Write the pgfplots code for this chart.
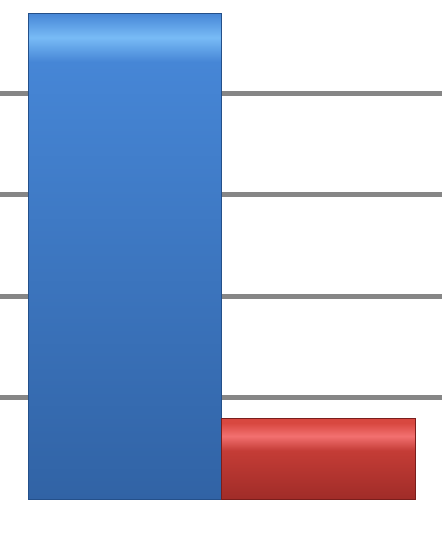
\documentclass[border=0pt]{standalone}
\usepackage{pgfplots}
\pgfplotsset{compat=1.18}
\definecolor{gridgray}{HTML}{868686}
\definecolor{bluetop}{HTML}{4686D6}
\definecolor{bluebot}{HTML}{3163A5}
\definecolor{bluelight}{HTML}{78BBF6}
\definecolor{blueedge}{HTML}{24508A}
\definecolor{redtop}{HTML}{D84840}
\definecolor{redmid}{HTML}{C43C36}
\definecolor{redlight}{HTML}{F27070}
\definecolor{redbot}{HTML}{A02C28}
\definecolor{rededge}{HTML}{7A1E1C}
\pgfdeclareverticalshading{blueshade}{100bp}{color(0bp)=(bluebot); color(25bp)=(bluebot); color(70bp)=(bluetop); color(72.5bp)=(bluelight); color(75bp)=(bluetop); color(100bp)=(bluetop)}
\pgfdeclareverticalshading{redshade}{100bp}{color(0bp)=(redbot); color(25bp)=(redbot); color(55bp)=(redmid); color(64bp)=(redlight); color(72bp)=(redtop); color(75bp)=(redtop); color(100bp)=(redtop)}
\begin{document}
\begin{tikzpicture}
\begin{axis}[
  scale only axis,
  width=442pt, height=542pt,
  xmin=0, xmax=442,
  ymin=-0.42, ymax=4.92,
  axis line style={draw=none},
  tick style={draw=none},
  xtick=\empty,
  ytick={1,2,3,4},
  yticklabel=\empty,
  ymajorgrids=true,
  major grid style={line width=5pt, color=gridgray},
  ybar, bar shift=0pt,
]
\addplot[bar width=193, draw=blueedge, line width=0.8pt, shading=blueshade]
  coordinates {(124.5,4.79)};
\addplot[bar width=194, draw=rededge, line width=0.8pt, shading=redshade]
  coordinates {(318,0.80)};
\end{axis}
\pgfresetboundingbox
\path (current axis.south west) rectangle (current axis.north east);
\end{tikzpicture}
\end{document}
